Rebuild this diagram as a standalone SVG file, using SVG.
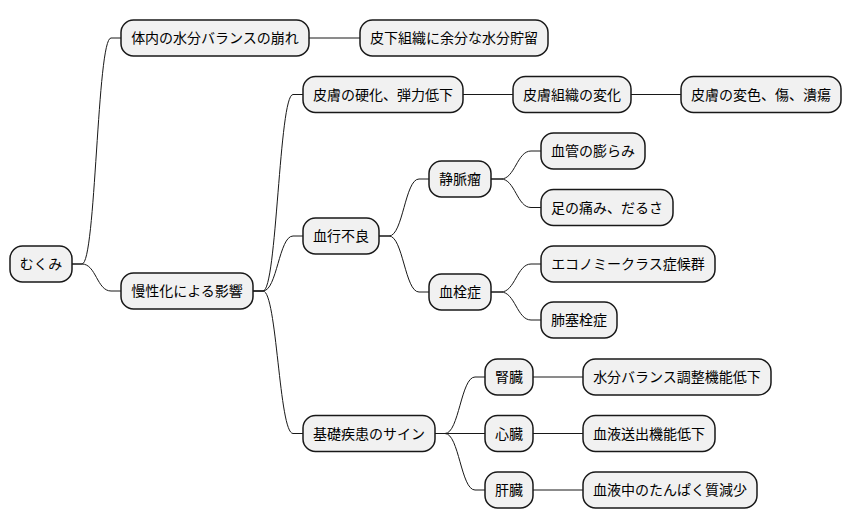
<svg xmlns="http://www.w3.org/2000/svg" width="852" height="527" viewBox="0 0 852 527">
<style>
.n rect{fill:#F1F1F1;stroke:#181818;stroke-width:1.5}
.n text{font-family:"Noto Sans CJK JP","Noto Sans",sans-serif;font-size:14px;fill:#000;text-anchor:middle}
.c path{fill:none;stroke:#181818;stroke-width:1}
</style>
<rect width="852" height="527" fill="#fff"/>
<g class="c">
<path d="M72,264 L82,264 C96,264 97,38 111,38 L121,38"/>
<path d="M72,264 L82,264 C96,264 97,291 111,291 L121,291"/>
<path d="M309,38 L360,38"/>
<path d="M253,291 L263,291 C277,291 279,94.5 293,94.5 L303,94.5"/>
<path d="M253,291 L263,291 C277,291 279,236 293,236 L303,236"/>
<path d="M253,291 L263,291 C277,291 279,433.5 293,433.5 L303,433.5"/>
<path d="M463,94.5 L513,94.5"/>
<path d="M631,94.5 L681,94.5"/>
<path d="M379,236 L389,236 C403,236 405,179 419,179 L429,179"/>
<path d="M379,236 L389,236 C403,236 405,292 419,292 L429,292"/>
<path d="M491,179 L501,179 C515,179 517,151 531,151 L541,151"/>
<path d="M491,179 L501,179 C515,179 517,207.5 531,207.5 L541,207.5"/>
<path d="M491,292 L501,292 C515,292 517,264 531,264 L541,264"/>
<path d="M491,292 L501,292 C515,292 517,320 531,320 L541,320"/>
<path d="M435,433.5 L445,433.5 C459,433.5 461,377 475,377 L485,377"/>
<path d="M435,433.5 L485,433.5"/>
<path d="M435,433.5 L445,433.5 C459,433.5 461,490 475,490 L485,490"/>
<path d="M533,377 L583,377"/>
<path d="M533,433.5 L583,433.5"/>
<path d="M533,490 L583,490"/>
</g>
<g id="root" class="n"><rect x="10" y="246" width="62" height="36" rx="12.5"/><text x="41" y="269">むくみ</text></g>
<g id="n1" class="n"><rect x="121" y="20" width="188" height="36" rx="12.5"/><text x="215" y="43">体内の水分バランスの崩れ</text></g>
<g id="n1a" class="n"><rect x="360" y="20" width="188" height="36" rx="12.5"/><text x="454" y="43">皮下組織に余分な水分貯留</text></g>
<g id="n2" class="n"><rect x="121" y="273" width="132" height="36" rx="12.5"/><text x="187" y="296">慢性化による影響</text></g>
<g id="n2a" class="n"><rect x="303" y="76.5" width="160" height="36" rx="12.5"/><text x="383" y="99.5">皮膚の硬化、弾力低下</text></g>
<g id="n2a1" class="n"><rect x="513" y="76.5" width="118" height="36" rx="12.5"/><text x="572" y="99.5">皮膚組織の変化</text></g>
<g id="n2a2" class="n"><rect x="681" y="76.5" width="160" height="36" rx="12.5"/><text x="761" y="99.5">皮膚の変色、傷、潰瘍</text></g>
<g id="n2b" class="n"><rect x="303" y="218" width="76" height="36" rx="12.5"/><text x="341" y="241">血行不良</text></g>
<g id="n2b1" class="n"><rect x="429" y="161" width="62" height="36" rx="12.5"/><text x="460" y="184">静脈瘤</text></g>
<g id="n2b1a" class="n"><rect x="541" y="133" width="104" height="36" rx="12.5"/><text x="593" y="156">血管の膨らみ</text></g>
<g id="n2b1b" class="n"><rect x="541" y="189.5" width="132" height="36" rx="12.5"/><text x="607" y="212.5">足の痛み、だるさ</text></g>
<g id="n2b2" class="n"><rect x="429" y="274" width="62" height="36" rx="12.5"/><text x="460" y="297">血栓症</text></g>
<g id="n2b2a" class="n"><rect x="541" y="246" width="174" height="36" rx="12.5"/><text x="628" y="269">エコノミークラス症候群</text></g>
<g id="n2b2b" class="n"><rect x="541" y="302" width="76" height="36" rx="12.5"/><text x="579" y="325">肺塞栓症</text></g>
<g id="n2c" class="n"><rect x="303" y="415.5" width="132" height="36" rx="12.5"/><text x="369" y="438.5">基礎疾患のサイン</text></g>
<g id="n2c1" class="n"><rect x="485" y="359" width="48" height="36" rx="12.5"/><text x="509" y="382">腎臓</text></g>
<g id="n2c1a" class="n"><rect x="583" y="359" width="188" height="36" rx="12.5"/><text x="677" y="382">水分バランス調整機能低下</text></g>
<g id="n2c2" class="n"><rect x="485" y="415.5" width="48" height="36" rx="12.5"/><text x="509" y="438.5">心臓</text></g>
<g id="n2c2a" class="n"><rect x="583" y="415.5" width="132" height="36" rx="12.5"/><text x="649" y="438.5">血液送出機能低下</text></g>
<g id="n2c3" class="n"><rect x="485" y="472" width="48" height="36" rx="12.5"/><text x="509" y="495">肝臓</text></g>
<g id="n2c3a" class="n"><rect x="583" y="472" width="174" height="36" rx="12.5"/><text x="670" y="495">血液中のたんぱく質減少</text></g>
</svg>
